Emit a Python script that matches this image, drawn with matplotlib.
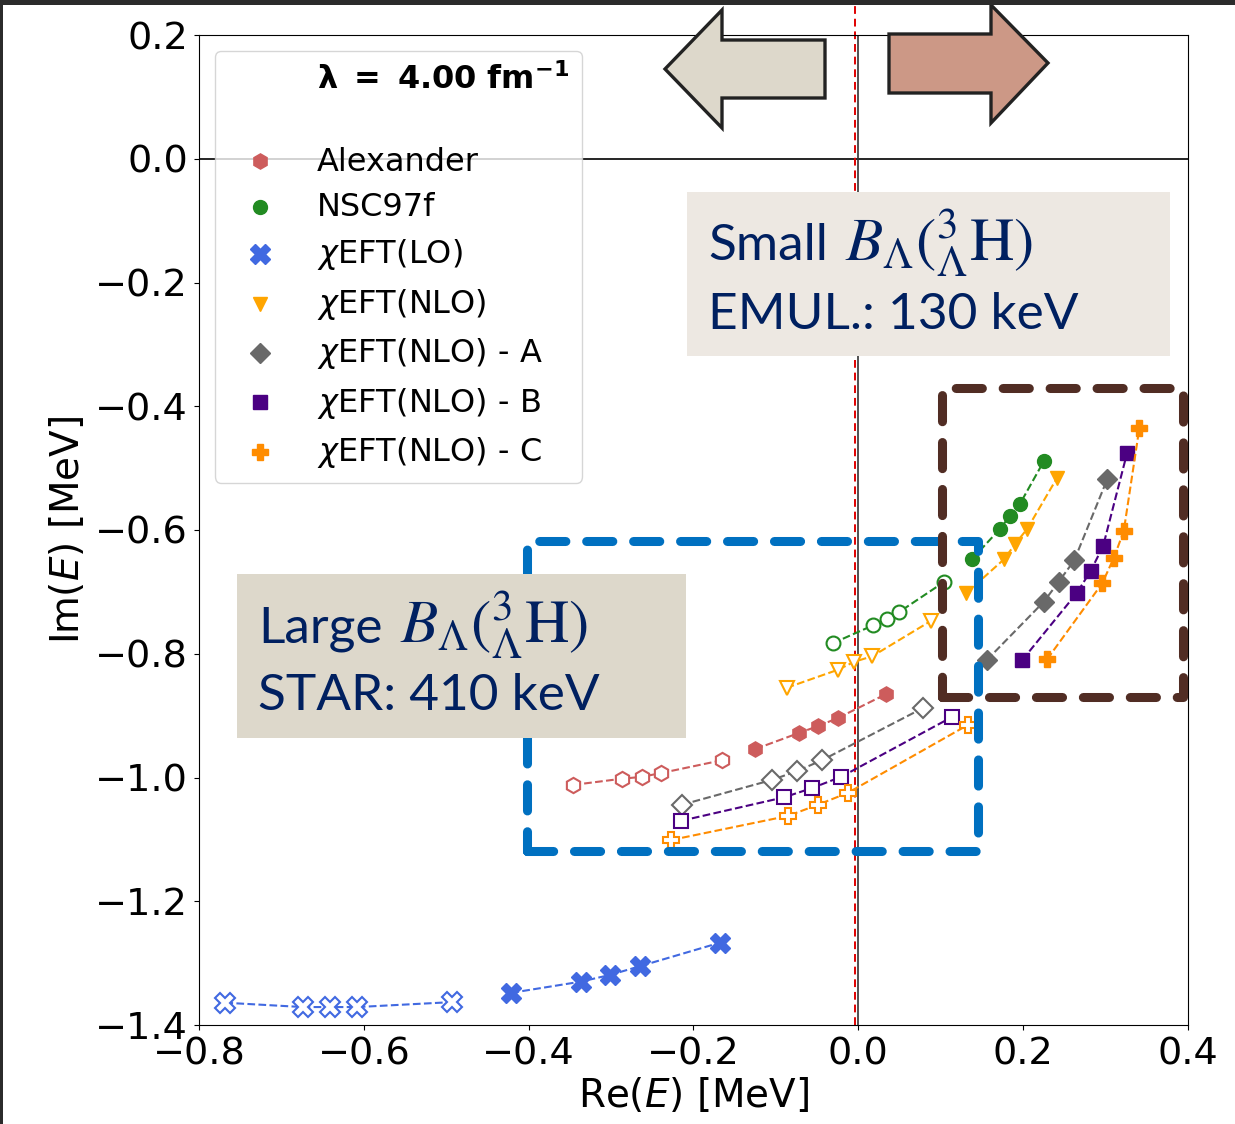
import matplotlib
matplotlib.use('Agg')
import matplotlib.pyplot as plt
from matplotlib.patches import Polygon, Rectangle
from matplotlib.lines import Line2D

# ---- data (Re(E), Im(E)) in MeV ----
alex_open_x = [-0.346, -0.287, -0.263, -0.240, -0.165]
alex_open_y = [-1.012, -1.002, -0.999, -0.993, -0.972]
alex_fill_x = [-0.125, -0.072, -0.049, -0.025, 0.034]
alex_fill_y = [-0.954, -0.928, -0.917, -0.904, -0.865]

nsc_open_x = [-0.031, 0.018, 0.035, 0.049, 0.104]
nsc_open_y = [-0.783, -0.754, -0.744, -0.733, -0.684]
nsc_fill_x = [0.138, 0.172, 0.184, 0.196, 0.225]
nsc_fill_y = [-0.647, -0.598, -0.577, -0.558, -0.489]

lo_open_x = [-0.768, -0.674, -0.641, -0.608, -0.493]
lo_open_y = [-1.364, -1.371, -1.371, -1.371, -1.363]
lo_fill_x = [-0.421, -0.337, -0.301, -0.265, -0.168]
lo_fill_y = [-1.348, -1.330, -1.319, -1.305, -1.267]

nlo_open_x = [-0.087, -0.025, -0.005, 0.017, 0.088]
nlo_open_y = [-0.855, -0.826, -0.813, -0.804, -0.747]
nlo_fill_x = [0.131, 0.177, 0.190, 0.205, 0.241]
nlo_fill_y = [-0.702, -0.647, -0.623, -0.598, -0.516]

a_open_x = [-0.214, -0.105, -0.075, -0.044, 0.078]
a_open_y = [-1.044, -1.004, -0.990, -0.972, -0.888]
a_fill_x = [0.156, 0.225, 0.243, 0.262, 0.302]
a_fill_y = [-0.810, -0.716, -0.684, -0.649, -0.518]

b_open_x = [-0.215, -0.090, -0.056, -0.021, 0.114]
b_open_y = [-1.070, -1.032, -1.017, -0.999, -0.902]
b_fill_x = [0.199, 0.265, 0.282, 0.297, 0.326]
b_fill_y = [-0.810, -0.702, -0.666, -0.626, -0.476]

c_open_x = [-0.227, -0.085, -0.049, -0.013, 0.133]
c_open_y = [-1.101, -1.062, -1.044, -1.025, -0.915]
c_fill_x = [0.229, 0.296, 0.310, 0.322, 0.341]
c_fill_y = [-0.809, -0.686, -0.645, -0.602, -0.435]

labels = ['Alexander', 'NSC97f', r'$\chi$EFT(LO)', r'$\chi$EFT(NLO)',
          r'$\chi$EFT(NLO) - A', r'$\chi$EFT(NLO) - B', r'$\chi$EFT(NLO) - C']
colors = ['indianred', 'forestgreen', 'royalblue', 'orange',
          'dimgray', 'indigo', 'darkorange']
markers = ['h', 'o', 'X', 'v', 'D', 's', 'P']
msizes = [11, 10, 15, 10, 10, 10, 12]
open_x = [alex_open_x, nsc_open_x, lo_open_x, nlo_open_x, a_open_x, b_open_x, c_open_x]
open_y = [alex_open_y, nsc_open_y, lo_open_y, nlo_open_y, a_open_y, b_open_y, c_open_y]
fill_x = [alex_fill_x, nsc_fill_x, lo_fill_x, nlo_fill_x, a_fill_x, b_fill_x, c_fill_x]
fill_y = [alex_fill_y, nsc_fill_y, lo_fill_y, nlo_fill_y, a_fill_y, b_fill_y, c_fill_y]

red_line_x = -0.004

W, H = 1235, 1124
fig = plt.figure(figsize=(W / 100, H / 100), dpi=100)
ax = fig.add_axes([199 / W, 1 - 1025 / H, (1188 - 199) / W, (1025 - 35) / H])


def fpx(x, y):
    # pixel position (from top-left) -> figure fraction
    return (x / W, 1 - y / H)


ax.axhline(0, color='k', lw=1.2, zorder=1)
ax.axvline(0, color='#333333', lw=1.2, zorder=1)
ax.axvline(red_line_x, ymin=0, ymax=1 + 35 / 990, color='#E00000', lw=1.4,
           ls=(0, (4, 2.5)), clip_on=False, zorder=1)

for i in range(len(labels)):
    ax.plot(open_x[i], open_y[i], ls='--', lw=1.5, color=colors[i],
            marker=markers[i], ms=msizes[i], mfc='white', mec=colors[i],
            mew=1.5, zorder=3)
    ax.plot(fill_x[i], fill_y[i], ls='--', lw=1.5, color=colors[i],
            marker=markers[i], ms=msizes[i], zorder=3)

ax.set_xlim(-0.8, 0.4)
ax.set_ylim(-1.4, 0.2)
ax.set_xticks([-0.8, -0.6, -0.4, -0.2, 0.0, 0.2, 0.4])
ax.set_yticks([0.2, 0.0, -0.2, -0.4, -0.6, -0.8, -1.0, -1.2, -1.4])
ax.tick_params(labelsize=27.5, pad=4.5)
ax.set_xlabel('Re($E$) [MeV]', fontsize=28, labelpad=3)
ax.set_ylabel('Im($E$) [MeV]', fontsize=28, labelpad=6)

# legend: title row + blank row + series
handles = [Line2D([], [], ls='none'), Line2D([], [], ls='none')]
leg_labels = [r'$\mathbf{\lambda\ =\ 4.00\ fm^{-1}}$', ' ']
for i in range(len(labels)):
    handles.append(Line2D([], [], ls='none', marker=markers[i],
                          color=colors[i], ms=msizes[i]))
    leg_labels.append(labels[i])
leg = ax.legend(handles, leg_labels, loc='upper left', fontsize=23,
                labelspacing=0.45, handleheight=0.3, framealpha=0.8)
leg.get_texts()[1].set_fontsize(11)  # thinner spacer row

# dashed highlight regions
ax.add_patch(Rectangle((-0.402, -1.119), 0.547, 0.501, fill=False,
                       edgecolor='#0070C0', lw=6.5, ls=(0, (2.9, 2.3)),
                       capstyle='round', joinstyle='round',
                       clip_on=False, zorder=5))
ax.add_patch(Rectangle((0.1015, -0.870), 0.2925, 0.4995, fill=False,
                       edgecolor='#512D24', lw=6.5, ls=(0, (2.9, 2.3)),
                       capstyle='round', joinstyle='round',
                       clip_on=False, zorder=5))

# arrows above the plot
left_arrow = [(665, 69), (722, 10), (722, 40), (825, 40), (825, 98),
              (722, 98), (722, 128)]
right_arrow = [(889, 34), (991, 34), (991, 5), (1048, 63), (991, 123),
               (991, 93), (889, 93)]
fig.add_artist(Polygon([fpx(*p) for p in left_arrow], closed=True,
                       transform=fig.transFigure, facecolor='#DDD8CB',
                       edgecolor='#222222', lw=2.4, zorder=5))
fig.add_artist(Polygon([fpx(*p) for p in right_arrow], closed=True,
                       transform=fig.transFigure, facecolor='#CC9886',
                       edgecolor='#222222', lw=2.4, zorder=5))

# text boxes
x0, y0 = fpx(687, 356)
x1, y1 = fpx(1170, 192)
fig.add_artist(Rectangle((x0, y0), x1 - x0, y1 - y0, transform=fig.transFigure,
                         facecolor='#EDE8E2', edgecolor='none', zorder=6))
x0, y0 = fpx(237, 738)
x1, y1 = fpx(686, 574)
fig.add_artist(Rectangle((x0, y0), x1 - x0, y1 - y0, transform=fig.transFigure,
                         facecolor='#DDD8CB', edgecolor='none', zorder=6))

txt = dict(color='#002060', family='Lato', fontsize=37, ha='left',
           va='baseline', zorder=7)
mtxt = dict(color='#002060', fontsize=44, ha='left', va='baseline',
            math_fontfamily='stix', zorder=7)
b_lambda = r'$B_\Lambda({}^{3}_{\Lambda}\mathrm{H})$'
t_small = fig.text(*fpx(708, 260), 'Small', **txt)
fig.text(*fpx(708, 329), 'EMUL.: 130 keV', **txt)
t_large = fig.text(*fpx(258, 642), 'Large', **txt)
fig.text(*fpx(258, 710), 'STAR: 410 keV', **txt)

# put the math part right after the word
fig.canvas.draw()
r = fig.canvas.get_renderer()
for t, base in [(t_small, 260), (t_large, 642)]:
    bb = t.get_window_extent(r)
    fig.text(*fpx(bb.x1 + 17, base), b_lambda, **mtxt)

# dark screenshot frame
fig.add_artist(Rectangle((0, 1 - 5 / H), 1, 5 / H, transform=fig.transFigure,
                         facecolor='#2B2B2B', edgecolor='none', zorder=10))
fig.add_artist(Rectangle((0, 0), 3 / W, 1, transform=fig.transFigure,
                         facecolor='#2B2B2B', edgecolor='none', zorder=10))

fig.savefig('out.png', dpi=100)
